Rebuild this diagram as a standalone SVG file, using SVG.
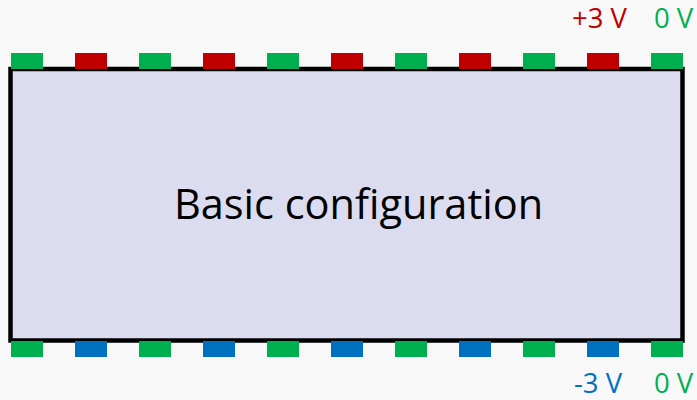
<svg xmlns="http://www.w3.org/2000/svg" width="697" height="400" viewBox="0 0 697 400">
  <style>
    .pad-g { fill: #00B050; }
    .pad-r { fill: #C00000; }
    .pad-b { fill: #0070C0; }
    .lbl { font-family: "Open Sans", "Liberation Sans", sans-serif; font-size: 27.5px; }
    .title { font-family: "Open Sans", "Liberation Sans", sans-serif; font-size: 41.5px; fill: #000; }
  </style>
  <defs>
    <rect id="pad" width="32" height="16"/>
  </defs>
  <rect width="697" height="400" fill="#F8F8F8"/>

  <!-- chip body -->
  <g id="chip">
    <rect x="10.5" y="69" width="672" height="271.5" fill="#DCDCF0" stroke="#000" stroke-width="4.5"/>
    <text class="title" x="358.5" y="219" text-anchor="middle">Basic configuration</text>
  </g>

  <!-- top row of pins: alternating 0 V / +3 V -->
  <g id="pins-top">
    <use href="#pad" class="pad-g" x="11" y="53"/>
    <use href="#pad" class="pad-r" x="75" y="53"/>
    <use href="#pad" class="pad-g" x="139" y="53"/>
    <use href="#pad" class="pad-r" x="203" y="53"/>
    <use href="#pad" class="pad-g" x="267" y="53"/>
    <use href="#pad" class="pad-r" x="331" y="53"/>
    <use href="#pad" class="pad-g" x="395" y="53"/>
    <use href="#pad" class="pad-r" x="459" y="53"/>
    <use href="#pad" class="pad-g" x="523" y="53"/>
    <use href="#pad" class="pad-r" x="587" y="53"/>
    <use href="#pad" class="pad-g" x="651" y="53"/>
  </g>

  <!-- bottom row of pins: alternating 0 V / -3 V -->
  <g id="pins-bottom">
    <use href="#pad" class="pad-g" x="11" y="341"/>
    <use href="#pad" class="pad-b" x="75" y="341"/>
    <use href="#pad" class="pad-g" x="139" y="341"/>
    <use href="#pad" class="pad-b" x="203" y="341"/>
    <use href="#pad" class="pad-g" x="267" y="341"/>
    <use href="#pad" class="pad-b" x="331" y="341"/>
    <use href="#pad" class="pad-g" x="395" y="341"/>
    <use href="#pad" class="pad-b" x="459" y="341"/>
    <use href="#pad" class="pad-g" x="523" y="341"/>
    <use href="#pad" class="pad-b" x="587" y="341"/>
    <use href="#pad" class="pad-g" x="651" y="341"/>
  </g>

  <!-- voltage labels -->
  <g id="labels">
    <text class="lbl" x="572" y="28" fill="#C00000">+3 V</text>
    <text class="lbl" x="654" y="28" fill="#00B050">0 V</text>
    <text class="lbl" x="574" y="393" fill="#0070C0">-3 V</text>
    <text class="lbl" x="654" y="393" fill="#00B050">0 V</text>
  </g>
</svg>
